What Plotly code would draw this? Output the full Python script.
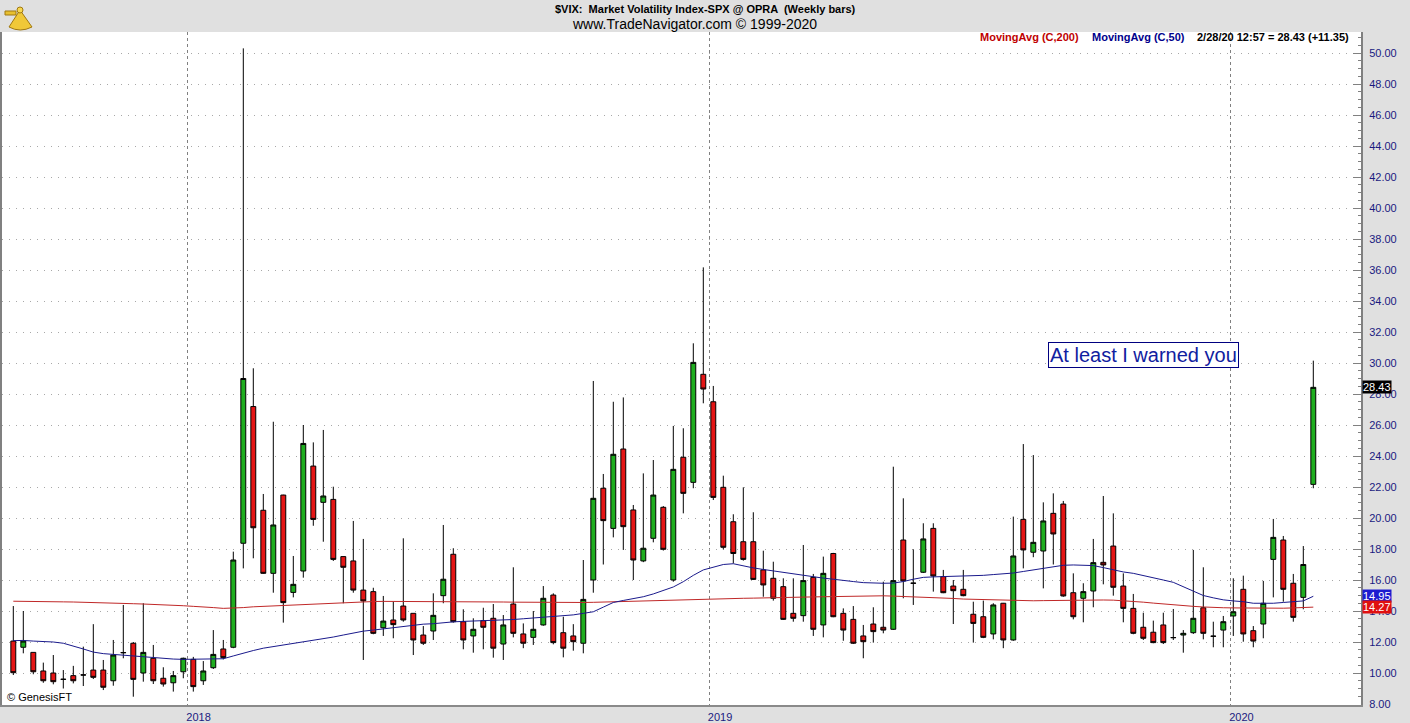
import pandas as pd
import plotly.graph_objects as go

# ---------------- data ----------------
first_week = "2017-09-01"
n_weeks = 131
dates = pd.date_range(first_week, periods=n_weeks, freq="7D")

opens = [12.06, 11.66, 11.33, 10.13, 10.00, 9.60, 9.83, 9.88, 10.19, 10.19,
         9.50, 11.32, 11.92, 10.00, 10.95, 9.66, 9.37, 10.08, 10.88, 9.50,
         10.34, 11.55, 11.66, 18.37, 27.19, 20.50, 16.43, 21.48, 15.20, 16.58,
         23.35, 21.01, 21.20, 17.51, 17.23, 15.35, 15.25, 12.92, 13.42, 14.32,
         13.85, 12.45, 12.71, 14.99, 17.66, 13.31, 12.39, 13.38, 13.53, 11.87,
         14.45, 12.52, 12.30, 13.10, 15.03, 12.60, 12.39, 11.92, 16.00, 21.92,
         19.33, 24.45, 20.52, 17.23, 18.69, 20.69, 16.00, 23.92, 22.30, 29.27,
         27.50, 21.98, 19.76, 18.47, 18.47, 16.65, 16.11, 15.57, 13.85, 13.70,
         16.17, 13.10, 17.71, 13.85, 13.46, 12.39, 13.16, 12.95, 12.82, 18.58,
         15.80, 16.50, 19.33, 16.22, 15.61, 15.40, 13.79, 13.63, 12.52, 14.50,
         12.13, 19.91, 17.79, 17.87, 20.30, 20.90, 15.18, 14.82, 15.29, 17.14,
         18.19, 15.61, 14.17, 12.95, 12.63, 13.10, 12.29, 12.45, 12.60, 14.21,
         12.38, 12.77, 13.68, 15.40, 12.73, 13.16, 17.33, 18.58, 15.79, 14.88,
         22.17]

highs = [14.32, 14.00, 11.33, 10.67, 11.16, 10.19, 10.46, 11.70, 13.15, 10.84,
         12.13, 14.39, 12.00, 14.50, 11.81, 10.37, 10.13, 10.99, 11.04, 10.77,
         12.77, 12.13, 17.83, 50.30, 29.66, 21.55, 26.21, 21.50, 17.55, 26.00,
         24.88, 25.68, 22.02, 17.51, 19.81, 18.65, 15.50, 14.97, 14.60, 18.69,
         13.85, 13.03, 15.14, 19.55, 18.05, 14.11, 13.53, 14.21, 14.45, 13.74,
         16.82, 13.20, 14.00, 15.61, 15.14, 13.63, 13.15, 17.29, 28.84, 22.84,
         27.50, 27.78, 20.84, 22.88, 23.74, 20.77, 25.94, 25.79, 31.27, 36.17,
         28.52, 22.73, 20.24, 21.98, 20.37, 17.89, 17.18, 16.11, 16.11, 18.26,
         16.39, 17.51, 17.75, 14.17, 14.32, 13.10, 14.24, 15.89, 23.31, 21.27,
         17.98, 19.66, 19.66, 16.65, 16.00, 16.65, 14.60, 14.67, 14.50, 14.52,
         20.09, 24.77, 24.06, 21.01, 21.59, 21.10, 16.43, 15.79, 18.65, 21.42,
         20.30, 16.43, 15.10, 13.89, 13.38, 13.89, 14.13, 12.77, 17.94, 16.82,
         13.31, 13.68, 16.11, 16.28, 13.03, 15.94, 19.94, 18.84, 16.39, 18.19,
         30.15]

lows = [9.87, 11.27, 9.92, 9.37, 9.27, 9.00, 9.33, 9.16, 9.61, 8.90,
        9.18, 10.95, 8.47, 9.44, 9.29, 9.12, 8.80, 9.66, 8.80, 9.23,
        10.26, 10.88, 11.60, 16.75, 17.40, 16.40, 15.18, 13.25, 14.88, 16.15,
        19.50, 18.47, 17.23, 14.50, 15.18, 10.84, 12.50, 12.39, 12.24, 13.31,
        11.16, 11.81, 12.13, 14.50, 13.25, 11.53, 11.31, 11.53, 10.99, 10.84,
        12.30, 11.60, 11.81, 13.05, 11.85, 11.01, 11.44, 11.27, 15.18, 17.00,
        18.75, 17.94, 16.00, 17.15, 18.43, 17.90, 15.89, 20.30, 21.92, 27.40,
        21.16, 17.98, 17.07, 17.25, 16.00, 14.92, 14.67, 13.42, 13.31, 13.31,
        12.39, 12.30, 13.60, 12.08, 11.87, 10.95, 11.96, 12.56, 12.78, 14.82,
        14.39, 16.45, 15.25, 15.15, 13.16, 14.95, 11.96, 12.25, 12.17, 11.60,
        12.08, 16.75, 17.47, 15.46, 17.00, 14.92, 13.46, 13.27, 14.24, 15.72,
        14.99, 13.27, 12.50, 12.13, 11.92, 11.87, 12.13, 11.31, 12.52, 12.17,
        11.66, 11.66, 12.39, 12.02, 11.66, 12.24, 14.88, 14.60, 13.31, 14.11,
        21.92]

closes = [10.02, 12.06, 10.08, 9.50, 9.44, 9.59, 9.50, 9.87, 9.72, 9.08,
          11.16, 11.31, 9.59, 11.33, 9.50, 9.29, 9.83, 10.95, 9.12, 10.13,
          11.20, 10.99, 17.29, 29.00, 19.37, 16.43, 19.55, 14.54, 15.72, 24.81,
          19.91, 21.42, 17.33, 16.82, 15.35, 14.65, 12.56, 13.35, 13.12, 13.42,
          12.13, 11.92, 13.72, 16.05, 13.31, 12.13, 12.82, 12.95, 11.60, 13.10,
          12.56, 11.92, 12.82, 14.82, 11.96, 11.60, 12.02, 14.75, 21.27, 19.83,
          24.11, 19.44, 17.29, 18.05, 21.48, 17.98, 23.14, 21.59, 30.04, 28.32,
          21.33, 18.11, 17.71, 17.33, 16.04, 15.68, 14.82, 13.46, 13.53, 15.96,
          12.82, 16.43, 13.63, 12.77, 11.92, 12.02, 12.67, 12.77, 15.96, 15.94,
          15.79, 18.65, 16.26, 15.18, 15.31, 14.99, 13.20, 12.30, 14.39, 12.13,
          17.55, 17.94, 18.43, 19.81, 18.97, 14.97, 13.63, 15.25, 17.12, 16.97,
          15.53, 14.17, 12.56, 12.24, 11.96, 11.96, 12.28, 12.56, 13.53, 12.56,
          12.37, 13.31, 13.95, 12.52, 12.06, 14.50, 18.75, 15.40, 13.59, 17.00,
          28.43]

ma200 = [14.63, 14.63, 14.62, 14.61, 14.60, 14.59, 14.58, 14.57, 14.56, 14.54,
         14.52, 14.50, 14.47, 14.45, 14.43, 14.40, 14.37, 14.34, 14.30, 14.28,
         14.22, 14.17, 14.18, 14.22, 14.27, 14.30, 14.33, 14.38, 14.41, 14.44,
         14.48, 14.51, 14.54, 14.56, 14.58, 14.60, 14.61, 14.62, 14.62, 14.62,
         14.62, 14.62, 14.62, 14.62, 14.61, 14.61, 14.60, 14.60, 14.59, 14.58,
         14.57, 14.56, 14.55, 14.55, 14.54, 14.54, 14.54, 14.55, 14.56, 14.58,
         14.60, 14.62, 14.63, 14.65, 14.67, 14.68, 14.70, 14.72, 14.73, 14.75,
         14.77, 14.78, 14.80, 14.82, 14.83, 14.85, 14.86, 14.88, 14.89, 14.90,
         14.91, 14.92, 14.93, 14.95, 14.96, 14.98, 14.99, 14.98, 14.96, 14.94,
         14.92, 14.90, 14.88, 14.85, 14.81, 14.77, 14.75, 14.72, 14.70, 14.68,
         14.66, 14.65, 14.66, 14.67, 14.68, 14.70, 14.71, 14.72, 14.72, 14.71,
         14.70, 14.67, 14.62, 14.57, 14.51, 14.45, 14.40, 14.35, 14.30, 14.26,
         14.22, 14.21, 14.20, 14.19, 14.18, 14.17, 14.17, 14.18, 14.20, 14.22,
         14.25]

ma50 = [12.09, 12.10, 12.06, 12.03, 12.00, 11.92, 11.75, 11.55, 11.35, 11.25,
        11.20, 11.15, 11.10, 11.03, 10.97, 10.92, 10.90, 10.88, 10.88, 10.88,
        10.90, 10.92, 11.10, 11.30, 11.45, 11.60, 11.70, 11.80, 11.90, 12.00,
        12.10, 12.22, 12.32, 12.45, 12.58, 12.70, 12.77, 12.85, 12.95, 13.00,
        13.07, 13.15, 13.18, 13.25, 13.30, 13.33, 13.35, 13.38, 13.40, 13.43,
        13.45, 13.50, 13.55, 13.60, 13.63, 13.68, 13.75, 13.85, 13.95, 14.25,
        14.55, 14.68, 14.80, 14.92, 15.10, 15.30, 15.55, 15.89, 16.30, 16.65,
        16.85, 17.00, 17.05, 16.90, 16.78, 16.68, 16.58, 16.48, 16.38, 16.30,
        16.20, 16.12, 16.05, 15.96, 15.90, 15.83, 15.79, 15.79, 15.80, 15.90,
        16.05, 16.17, 16.20, 16.22, 16.22, 16.23, 16.27, 16.30, 16.35, 16.39,
        16.45, 16.55, 16.65, 16.72, 16.85, 16.95, 16.97, 16.97, 16.93, 16.80,
        16.65, 16.52, 16.43, 16.30, 16.15, 16.00, 15.85, 15.57, 15.25, 15.00,
        14.85, 14.72, 14.65, 14.60, 14.50, 14.50, 14.50, 14.55, 14.58, 14.65,
        14.95]

last_label = "2/28/20 12:57 = 28.43 (+11.35)"
ma200_label = "14.27"
ma50_label = "14.95"
ma200_value = 14.27
ma50_value = 14.95
y_ticks = list(range(8, 51, 2))

# ---------------- layout geometry (pixels) ----------------
W, H = 1410, 723
PL, PR, PT, PB = 2, 1361, 32, 705
first_px, week_px = 13.3, 10.0


def fx(x):
    return (x - PL) / (PR - PL)


def fy(y):
    return (PB - y) / (PB - PT)


x0 = dates[0] - pd.Timedelta(days=(first_px - PL) * 7 / week_px)
x1 = dates[0] + pd.Timedelta(days=(PR - first_px) * 7 / week_px)
y_top = 50 + (53 - PT) / 15.5
y_bot = 50 - (PB - 53) / 15.5

FONT = "Liberation Sans, Arial, sans-serif"
NAVY = "#1a1a80"

fig = go.Figure()
fig.add_trace(go.Candlestick(
    x=dates, open=opens, high=highs, low=lows, close=closes,
    increasing=dict(fillcolor="#1fae1f", line=dict(color="#000000", width=1)),
    decreasing=dict(fillcolor="#e51515", line=dict(color="#000000", width=1)),
    whiskerwidth=0, hoverinfo="x+y",
))
fig.add_trace(go.Scatter(x=dates, y=ma200, mode="lines",
                         line=dict(color="#c02828", width=1), hoverinfo="skip"))
fig.add_trace(go.Scatter(x=dates, y=ma50, mode="lines",
                         line=dict(color="#1a1a8c", width=1), hoverinfo="skip"))

ann = []
ann.append(dict(text="<b>$VIX:  Market Volatility Index-SPX @ OPRA  (Weekly bars)</b>",
                x=fx(705), y=fy(9), xref="paper", yref="paper", showarrow=False,
                xanchor="center", yanchor="middle", font=dict(family=FONT, size=11, color="#000")))
ann.append(dict(text="www.TradeNavigator.com © 1999-2020",
                x=fx(694), y=fy(23.5), xref="paper", yref="paper", showarrow=False,
                xanchor="center", yanchor="middle", font=dict(family=FONT, size=14, color="#000")))
ann.append(dict(text="<b>MovingAvg (C,200)</b>", x=fx(978), y=fy(37), xref="paper", yref="paper",
                showarrow=False, xanchor="left", yanchor="middle",
                font=dict(family=FONT, size=11, color="#c00000")))
ann.append(dict(text="<b>MovingAvg (C,50)</b>", x=fx(1090), y=fy(37), xref="paper", yref="paper",
                showarrow=False, xanchor="left", yanchor="middle",
                font=dict(family=FONT, size=11, color="#00008c")))
ann.append(dict(text="<b>" + last_label + "</b>", x=fx(1195), y=fy(37), xref="paper", yref="paper",
                showarrow=False, xanchor="left", yanchor="middle",
                font=dict(family=FONT, size=11, color="#000")))
ann.append(dict(text="© GenesisFT", x=fx(5), y=fy(697), xref="paper", yref="paper",
                showarrow=False, xanchor="left", yanchor="middle",
                font=dict(family=FONT, size=11, color="#000")))
ann.append(dict(text="At least I warned you", x=fx(1143.5), y=fy(354.5), xref="paper", yref="paper",
                showarrow=False, xanchor="center", yanchor="middle",
                bgcolor="white", bordercolor="#000080", borderwidth=1, borderpad=1,
                font=dict(family=FONT, size=20, color="#1020a0")))
# price tags on the right axis
for txt, val, bg in [(f"{closes[-1]:.2f}", closes[-1], "#000000"),
                     (ma50_label, ma50_value, "#1c1cd0"),
                     (ma200_label, ma200_value, "#e01010")]:
    ann.append(dict(text=txt, x=1, y=val, xref="paper", yref="y", showarrow=False,
                    xanchor="left", yanchor="middle", xshift=1, bgcolor=bg, borderpad=0,
                    font=dict(family=FONT, size=11, color="white")))

# simple sextant logo
shapes = [
    dict(type="path", xref="paper", yref="paper",
         path=f"M {fx(20)} {fy(10)} L {fx(9)} {fy(27)} Q {fx(20)} {fy(33)} {fx(32)} {fy(27)} Z",
         fillcolor="#f0c838", line=dict(color="#a07810", width=1), layer="above"),
    dict(type="rect", xref="paper", yref="paper", x0=fx(5), x1=fx(16), y0=fy(15), y1=fy(11),
         fillcolor="#e8c030", line=dict(color="#a07810", width=1), layer="above"),
    dict(type="circle", xref="paper", yref="paper", x0=fx(17), x1=fx(23), y0=fy(13), y1=fy(7),
         fillcolor="#f8d850", line=dict(color="#a07810", width=1), layer="above"),
]

fig.update_layout(
    width=W, height=H,
    margin=dict(l=PL, r=W - PR, t=PT, b=H - PB, pad=0, autoexpand=False),
    paper_bgcolor="#e0e0e0", plot_bgcolor="white",
    showlegend=False, annotations=ann, shapes=shapes,
    xaxis=dict(type="date", range=[x0, x1], rangeslider=dict(visible=False),
               automargin=False,
               showgrid=True, gridcolor="#808080", griddash="3px,3px", gridwidth=1,
               dtick="M12", tick0="2018-01-01", tickformat="%Y", ticks="",
               ticklabelshift=11, ticklabelstandoff=1,
               showline=True, linecolor="#8a8a8a", linewidth=2, zeroline=False,
               tickfont=dict(family=FONT, size=11, color=NAVY)),
    yaxis=dict(side="right", range=[y_bot, y_top], tickmode="array", tickvals=y_ticks,
               ticktext=[f"{v:.2f}" for v in y_ticks], automargin=False,
               showgrid=True, gridcolor="#a8a8a8", griddash="1px,6px", gridwidth=1,
               ticks="inside", ticklen=8, tickcolor="#808080", tickwidth=1,
               minor=dict(dtick=0.5, tick0=0, ticks="inside", ticklen=3,
                          tickcolor="#808080", showgrid=False),
               showline=True, mirror=True, linecolor="#808080", linewidth=2, zeroline=False,
               ticklabelstandoff=4,
               tickfont=dict(family=FONT, size=11, color=NAVY)),
)

fig.write_html("out.html", config={"displayModeBar": False},
               post_script="document.body.style.margin='0';document.body.style.overflow='hidden';")
